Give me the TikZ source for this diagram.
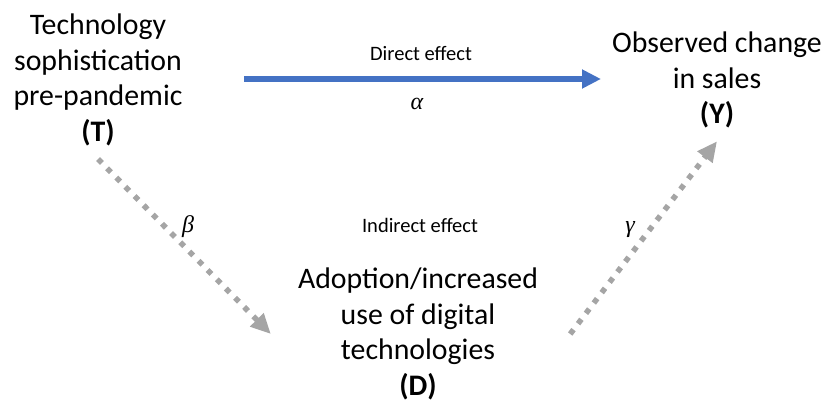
\documentclass[tikz,border=0pt]{standalone}
\usepackage{fontspec}
\setmainfont{Carlito}
\newfontfamily\greekfont{Liberation Serif}
\usetikzlibrary{arrows.meta}
\definecolor{effblue}{HTML}{4472C4}
\definecolor{effgray}{HTML}{A5A5A5}
\begin{document}
\begin{tikzpicture}[x=1pt, y=1pt,
    var/.style = {align=center, inner sep=0pt, font=\fontsize{29.8}{35.5}\selectfont},
    lbl/.style = {inner sep=0pt, anchor=base, font=\fontsize{20.5}{24}\selectfont},
    coef/.style = {inner sep=0pt, anchor=base, font=\fontsize{24}{26}\selectfont\greekfont\itshape},
    direct/.style = {effblue, line width=6pt, -{Triangle[length=19pt, width=18pt]}},
    indirect/.style = {effgray, line width=5.5pt, dash pattern=on 5.5pt off 7.5pt,
                       -{Triangle[length=20pt, width=18pt]}}]
    \useasboundingbox (0,0) rectangle (829,405);
    \node [var] (T) at (98,325) {Technology\\sophistication\\pre-pandemic\\\textbf{(T)}};
    \node [var] (Y) at (717,325) {Observed change\\in sales\\\textbf{(Y)}};
    \node [var] (D) at (418,71) {Adoption/increased\\use of digital\\technologies\\\textbf{(D)}};
    \node [lbl] (direct) at (421,344) {Direct effect};
    \node [lbl] (indirect) at (420,173) {Indirect effect};
    \node [coef] (alpha) at (417,295) {α};
    \node [coef] (beta) at (188,173) {β};
    \node [coef] (gamma) at (630,173) {γ};
    \draw [direct, shorten <=61.5pt, shorten >=11pt] ([yshift=1pt]T.east) -- ([yshift=1pt]Y.west);
    \draw [indirect] ([yshift=-13pt]T.south) -- ([xshift=-27pt]D.west);
    \draw [indirect] ([xshift=32pt]D.east) -- ([yshift=-13pt]Y.south);
\end{tikzpicture}
\end{document}
